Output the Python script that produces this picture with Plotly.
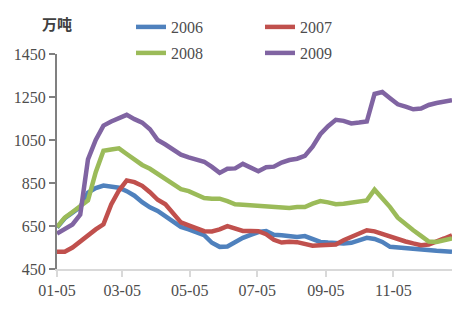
import datetime as dt
import plotly.graph_objects as go

# Weekly observation dates (first week 01-05), year only used for the date axis
start = dt.date(2009, 1, 5)
dates = [start + dt.timedelta(days=7 * i) for i in range(52)]

series_names = ["2006", "2007", "2008", "2009"]

v2006 = [643, 686, 712, 738, 805, 826, 838, 834, 828, 812,
         791, 761, 737, 720, 695, 667, 646, 634, 622, 607,
         572, 553, 555, 576, 595, 609, 622, 626, 609, 607,
         603, 599, 603, 587, 576, 573, 570, 569, 572, 584,
         595, 590, 576, 553, 550, 547, 542, 538, 533, 535,
         533, 530]

v2007 = [530, 530, 550, 579, 609, 634, 658, 750, 815, 862,
         854, 837, 807, 772, 751, 707, 667, 653, 638, 626,
         625, 634, 649, 638, 627, 627, 626, 612, 586, 573,
         577, 575, 564, 558, 560, 560, 564, 584, 599, 615,
         630, 625, 612, 603, 590, 578, 569, 561, 564, 576,
         592, 607]

v2008 = [645, 689, 715, 741, 769, 900, 1000, 1006, 1011, 985,
         960, 934, 916, 893, 869, 843, 821, 812, 797, 780,
         777, 777, 766, 751, 749, 746, 741, 740, 738, 733,
         734, 738, 738, 754, 766, 760, 751, 754, 760, 764,
         769, 819, 780, 738, 689, 658, 630, 604, 578, 576,
         584, 592]

v2009 = [615, 636, 657, 703, 960, 1050, 1117, 1136, 1151, 1167,
         1147, 1131, 1100, 1050, 1029, 1003, 982, 969, 960, 949,
         925, 897, 916, 918, 939, 923, 905, 923, 926, 945,
         957, 963, 976, 1019, 1077, 1114, 1144, 1139, 1127, 1131,
         1136, 1264, 1273, 1244, 1216, 1205, 1193, 1196, 1213, 1222,
         1230, 1235]

values = [v2006, v2007, v2008, v2009]
colors = ["#4F81BD", "#C0504D", "#9BBB59", "#8064A2"]
legend_ids = ["legend", "legend", "legend2", "legend2"]

tick_dates = ["2009-01-05", "2009-03-05", "2009-05-05", "2009-07-05", "2009-09-05", "2009-11-05"]
tick_text = ["01-05", "03-05", "05-05", "07-05", "09-05", "11-05"]
y_ticks = [450, 650, 850, 1050, 1250, 1450]

W, H = 466, 322
L, R, T, B = 57, 14, 54, 53

fig = go.Figure()
for name, vals, col, lg in zip(series_names, values, colors, legend_ids):
    fig.add_trace(go.Scatter(x=dates, y=vals, mode="lines", name=name,
                             line=dict(color=col, width=4.5), legend=lg))

label_font = dict(family="Liberation Serif", size=16, color="#4d4d4d")

fig.update_layout(
    width=W, height=H,
    margin=dict(l=L, r=R, t=T, b=B, autoexpand=False),
    paper_bgcolor="white", plot_bgcolor="white",
    font=label_font,
    legend=dict(orientation="h", xref="container", yref="container",
                x=131 / W, y=1 - 27 / H, xanchor="left", yanchor="middle",
                entrywidth=84, font=label_font, bgcolor="rgba(0,0,0,0)"),
    legend2=dict(orientation="h", xref="container", yref="container",
                 x=131 / W, y=1 - 53 / H, xanchor="left", yanchor="middle",
                 entrywidth=84, font=label_font, bgcolor="rgba(0,0,0,0)"),
    xaxis=dict(type="date", range=[dates[0], dates[-1]],
               tickvals=tick_dates, ticktext=tick_text,
               showgrid=False, zeroline=False,
               showline=True, linecolor="#d9d9d9", linewidth=2,
               ticks="outside", ticklen=6, tickwidth=2, tickcolor="#d9d9d9",
               tickfont=label_font),
    yaxis=dict(range=[450, 1450], tickvals=y_ticks,
               showgrid=False, zeroline=False,
               showline=True, linecolor="#808080", linewidth=2,
               ticks="outside", ticklen=6, tickwidth=2, tickcolor="#808080",
               tickfont=label_font),
    annotations=[dict(text="<b>万吨</b>", xref="paper", yref="paper",
                      x=0.0, y=(H - B - 24) / (H - T - B),
                      xanchor="center", yanchor="middle", showarrow=False,
                      font=dict(family="Noto Sans CJK SC", size=15, color="#404040"))],
)

fig.write_html("out.html")
